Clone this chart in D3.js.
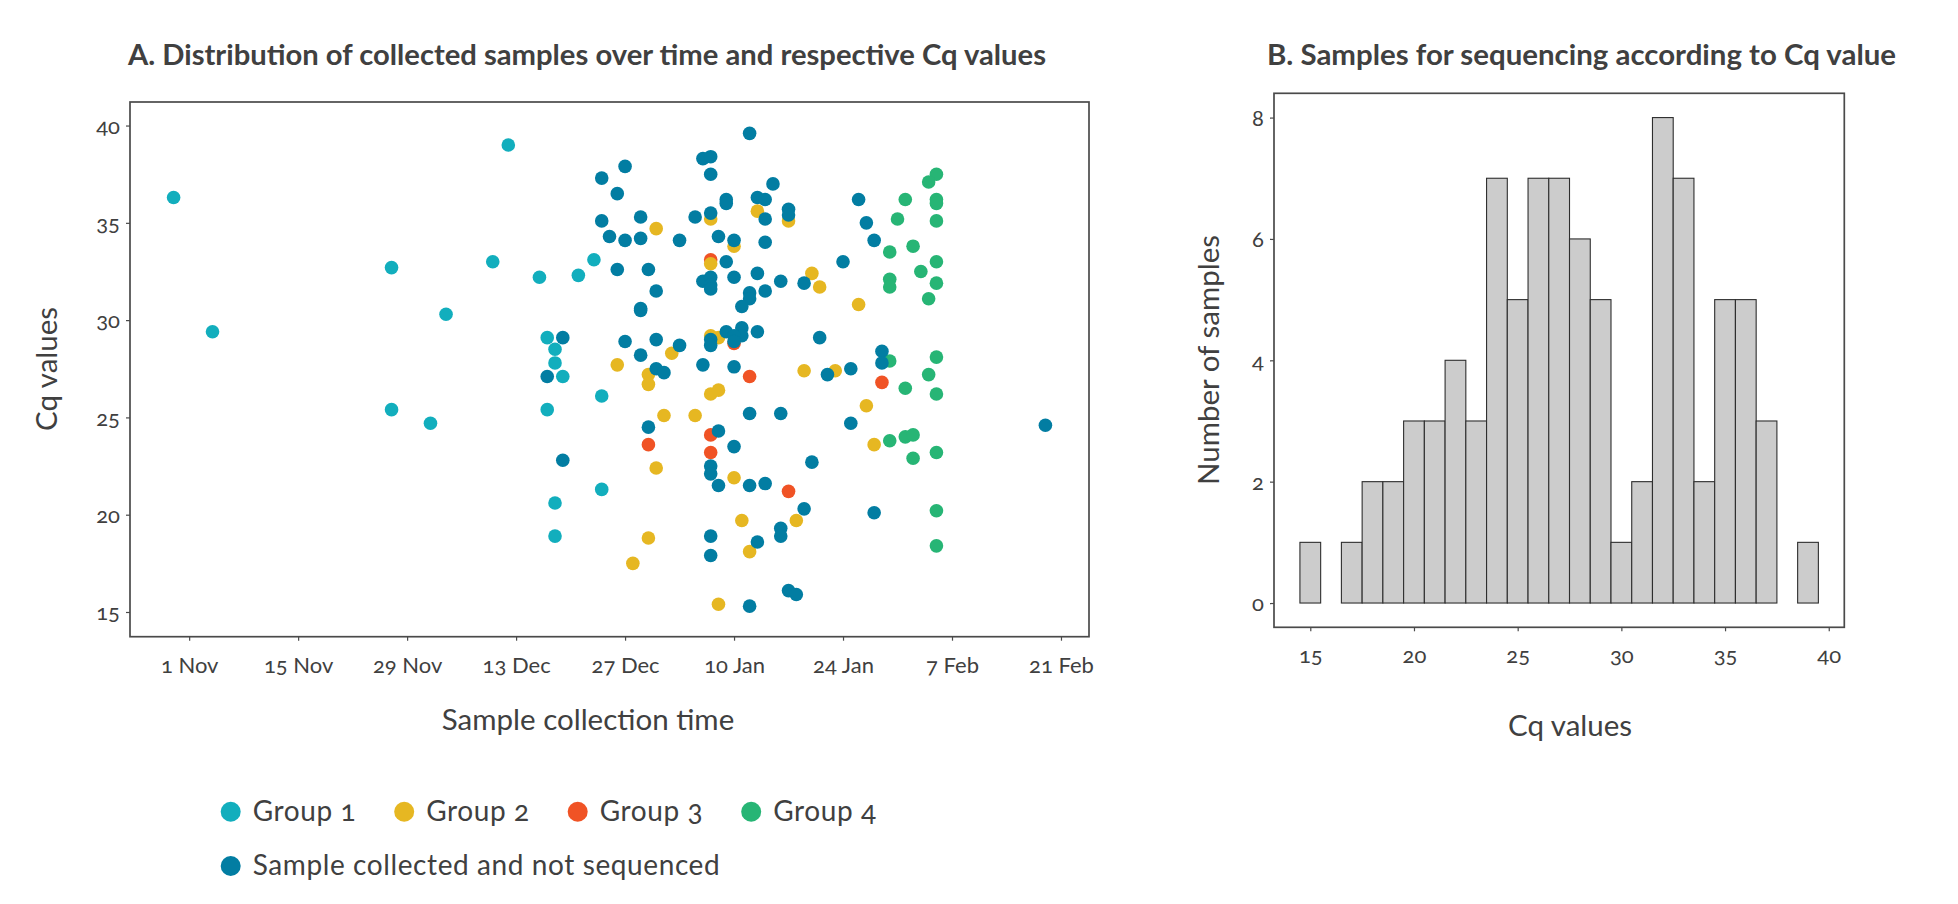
<!DOCTYPE html>
<html><head><meta charset="utf-8">
<script src="https://cdn.jsdelivr.net/npm/d3@7"></script>
<style>
body{margin:0;background:#fff;}
svg text{font-family:Lato,"Open Sans",sans-serif;fill:#404040;font-variant-numeric:oldstyle-nums;}
</style></head><body>
<svg id="chart" width="1958" height="904"></svg>
<script>
// ---------- Panel A data: [collection date, Cq value] ----------
const group1 = [["2020-10-30",36.3],["2020-11-04",29.4],["2020-11-27",32.7],["2020-11-27",25.4],["2020-12-02",24.7],
  ["2020-12-04",30.3],["2020-12-10",33.0],["2020-12-12",39.0],["2020-12-16",32.2],["2020-12-17",29.1],["2020-12-17",25.4],
  ["2020-12-18",28.5],["2020-12-18",27.8],["2020-12-18",20.6],["2020-12-18",18.9],["2020-12-19",27.1],["2020-12-21",32.3],
  ["2020-12-23",33.1],["2020-12-24",26.1],["2020-12-24",21.3]];
const group2 = [["2020-12-31",34.7],["2021-01-07",35.2],["2021-01-10",33.8],["2021-01-13",35.6],["2021-01-17",35.1],
  ["2021-01-07",32.9],["2021-01-20",32.4],["2021-01-21",31.7],["2021-01-26",30.8],["2021-01-02",28.3],["2020-12-26",27.7],
  ["2020-12-30",27.2],["2021-01-08",29.1],["2021-01-07",29.2],["2021-01-19",27.4],["2021-01-23",27.4],["2020-12-30",26.7],
  ["2021-01-07",26.2],["2021-01-08",26.4],["2021-01-01",25.1],["2021-01-05",25.1],["2021-01-27",25.6],["2020-12-31",22.4],
  ["2021-01-10",21.9],["2021-01-28",23.6],["2021-01-11",19.7],["2021-01-18",19.7],["2021-01-12",18.1],["2020-12-30",18.8],
  ["2020-12-28",17.5],["2021-01-08",15.4]];
const group3 = [["2021-01-07",33.1],["2021-01-12",27.1],["2021-01-10",28.8],["2020-12-30",23.6],["2021-01-07",24.1],
  ["2021-01-07",23.2],["2021-01-17",21.2],["2021-01-29",26.8]];
const group4 = [["2021-02-05",37.5],["2021-02-04",37.1],["2021-02-01",36.2],["2021-02-05",36.2],["2021-02-05",36.0],
  ["2021-01-31",35.2],["2021-02-05",35.1],["2021-01-30",33.5],["2021-02-02",33.8],["2021-02-05",33.0],["2021-02-03",32.5],
  ["2021-01-30",32.1],["2021-01-30",31.7],["2021-02-05",31.9],["2021-02-04",31.1],["2021-02-05",28.1],["2021-01-30",27.9],
  ["2021-02-04",27.2],["2021-02-01",26.5],["2021-02-05",26.2],["2021-01-30",23.8],["2021-02-01",24.0],["2021-02-02",24.1],
  ["2021-02-02",22.9],["2021-02-05",23.2],["2021-02-05",20.2],["2021-02-05",18.4]];
const notSequenced = [["2020-12-19",29.1],["2020-12-17",27.1],["2020-12-19",22.8],
  ["2021-01-12",39.6],["2021-01-06",38.3],["2021-01-07",38.4],["2021-01-07",37.5],["2020-12-27",37.9],["2020-12-24",37.3],
  ["2020-12-26",36.5],["2021-01-15",37.0],["2021-01-09",36.2],["2021-01-09",36.0],["2021-01-13",36.3],["2021-01-14",36.2],
  ["2021-01-14",35.2],["2021-01-17",35.7],["2021-01-17",35.4],["2020-12-24",35.1],["2020-12-29",35.3],["2020-12-25",34.3],
  ["2020-12-27",34.1],["2020-12-29",34.2],["2021-01-03",34.1],["2021-01-05",35.3],["2021-01-07",35.5],["2021-01-08",34.3],
  ["2021-01-10",34.1],["2021-01-14",34.0],["2020-12-26",32.6],["2020-12-30",32.6],["2021-01-09",33.0],["2021-01-13",32.4],
  ["2021-01-24",33.0],["2021-01-06",32.0],["2021-01-07",32.2],["2021-01-07",31.8],["2021-01-07",31.6],["2021-01-10",32.2],
  ["2020-12-31",31.5],["2021-01-14",31.5],["2021-01-16",32.0],["2021-01-12",31.4],["2021-01-12",31.1],["2021-01-11",30.7],
  ["2021-01-19",31.9],["2020-12-29",30.6],["2020-12-29",30.5],["2020-12-27",28.9],["2020-12-31",29.0],["2020-12-29",28.2],
  ["2021-01-03",28.7],["2020-12-31",27.5],["2021-01-01",27.3],["2021-01-06",27.7],["2021-01-10",27.6],["2021-01-22",27.2],
  ["2021-01-21",29.1],["2021-01-09",29.4],["2021-01-11",29.6],["2021-01-11",29.2],["2021-01-10",29.2],["2021-01-10",28.9],
  ["2021-01-07",29.0],["2021-01-07",28.7],["2021-01-13",29.4],
  ["2021-01-12",25.2],["2021-01-16",25.2],["2020-12-30",24.5],["2021-01-08",24.3],["2021-01-10",23.5],["2021-01-07",22.5],
  ["2021-01-07",22.1],["2021-01-08",21.5],["2021-01-12",21.5],["2021-01-14",21.6],["2021-01-20",22.7],["2021-01-19",20.3],
  ["2021-01-16",19.3],["2021-01-16",18.9],["2021-01-13",18.6],["2021-01-07",18.9],["2021-01-07",17.9],["2021-01-17",16.1],
  ["2021-01-18",15.9],["2021-01-12",15.3],
  ["2021-01-26",36.2],["2021-01-27",35.0],["2021-01-28",34.1],["2021-01-29",28.4],["2021-01-29",27.8],["2021-01-25",27.5],
  ["2021-01-25",24.7],["2021-01-28",20.1],["2021-02-19",24.6]];

const dateTicks = ["2020-11-01","2020-11-15","2020-11-29","2020-12-13","2020-12-27","2021-01-10","2021-01-24","2021-02-07","2021-02-21"];
const dateTickLabels = ["1 Nov","15 Nov","29 Nov","13 Dec","27 Dec","10 Jan","24 Jan","7 Feb","21 Feb"];
const cqTicks = [15,20,25,30,35,40];

// ---------- Panel B data: histogram of Cq values (bin width 1) ----------
const histBins = [15,16,17,18,19,20,21,22,23,24,25,26,27,28,29,30,31,32,33,34,35,36,37,38,39];
const histCounts = [1,0,1,2,2,3,3,4,3,7,5,7,7,6,5,1,2,8,7,2,5,5,3,0,1];
const histXTicks = [15,20,25,30,35,40];
const histYTicks = [0,2,4,6,8];

const seriesNames = ["Group 1","Group 2","Group 3","Group 4","Sample collected and not sequenced"];
const seriesColors = ["#12aebd","#e6b722","#f05325","#27b575","#027da2"];

// ---------- drawing ----------
const svg = d3.select("#chart");
const parse = d3.utcParse("%Y-%m-%d");
const frameColor = "#4a4a4a";
const series = [group1, group2, group3, group4, notSequenced];

// Panel A scales
const allDates = series.flat().map(d => parse(d[0]));
const [dmin, dmax] = d3.extent(allDates);
const span = dmax - dmin;
const xA = d3.scaleUtc().domain([new Date(+dmin - 0.05*span), new Date(+dmax + 0.05*span)]).range([130, 1089]);
const yA = d3.scaleLinear().domain([13.73, 41.21]).range([636.7, 102]);

const gA = svg.append("g");
gA.append("rect").attr("x",130).attr("y",102).attr("width",1089-130).attr("height",636.7-102)
  .attr("fill","none").attr("stroke",frameColor).attr("stroke-width",1.7);

const axA_x = gA.append("g").attr("transform","translate(0,636.7)")
  .call(d3.axisBottom(xA).tickValues(dateTicks.map(parse)).tickFormat((d,i)=>dateTickLabels[i]).tickSize(4).tickPadding(10));
const axA_y = gA.append("g").attr("transform","translate(130,0)")
  .call(d3.axisLeft(yA).tickValues(cqTicks).tickSize(4).tickPadding(6));
[axA_x, axA_y].forEach(a => {
  a.select(".domain").remove();
  a.selectAll(".tick line").attr("stroke",frameColor).attr("stroke-width",1.2);
  a.selectAll(".tick text").attr("font-size",22).attr("fill","#404040");
});
axA_x.selectAll(".tick text").attr("dy","1.0em");
axA_y.selectAll(".tick text").attr("dy","0.35em");

// points: draw order so that overlaps resemble the reference
const drawOrder = [0,2,1,3,4];
drawOrder.forEach(si => {
  gA.append("g").selectAll("circle").data(series[si]).join("circle")
    .attr("cx", d => xA(parse(d[0])))
    .attr("cy", d => yA(d[1]))
    .attr("r", 6.8)
    .attr("fill", seriesColors[si]);
});

// Panel A titles
svg.append("text").attr("x",128).attr("y",65).attr("font-size",28).attr("font-weight",700)
  .attr("textLength",918).attr("lengthAdjust","spacingAndGlyphs")
  .text("A. Distribution of collected samples over time and respective Cq values");
svg.append("text").attr("x",588).attr("y",730).attr("text-anchor","middle").attr("font-size",29.5)
  .text("Sample collection time");
svg.append("text").attr("transform","translate(46.7,369) rotate(-90)").attr("text-anchor","middle")
  .attr("dy","0.35em").attr("font-size",29.5).text("Cq values");

// Legend
const legendItems = seriesNames.map((n,i)=>({name:n,color:seriesColors[i],
  x: i<4 ? 230.7 + i*173.5 : 230.7, y: i<4 ? 811.7 : 866}));
const lg = svg.append("g").selectAll("g").data(legendItems).join("g")
  .attr("transform", d => `translate(${d.x},${d.y})`);
lg.append("circle").attr("r",10).attr("fill", d => d.color);
lg.append("text").attr("x",22).attr("dy","0.33em").attr("font-size",28).attr("letter-spacing",0.6).text(d => d.name);

// Panel B scales
const xB = d3.scaleLinear().domain([13.25, 40.75]).range([1274, 1844.3]);
const yB = d3.scaleLinear().domain([-0.4, 8.4]).range([627.3, 93.3]);
const gB = svg.append("g");
gB.append("rect").attr("x",1274).attr("y",93.3).attr("width",1844.3-1274).attr("height",627.3-93.3)
  .attr("fill","none").attr("stroke",frameColor).attr("stroke-width",1.7);

gB.append("g").selectAll("rect").data(histBins).join("rect")
  .attr("x", d => xB(d - 0.5))
  .attr("width", d => xB(d + 0.5) - xB(d - 0.5))
  .attr("y", (d,i) => yB(histCounts[i]))
  .attr("height", (d,i) => yB(0) - yB(histCounts[i]))
  .attr("fill", "#cccccc").attr("stroke", "#2e2e2e").attr("stroke-width", 1.1);

const axB_x = gB.append("g").attr("transform","translate(0,627.3)")
  .call(d3.axisBottom(xB).tickValues(histXTicks).tickSize(4).tickPadding(10));
const axB_y = gB.append("g").attr("transform","translate(1274,0)")
  .call(d3.axisLeft(yB).tickValues(histYTicks).tickSize(4).tickPadding(6));
[axB_x, axB_y].forEach(a => {
  a.select(".domain").remove();
  a.selectAll(".tick line").attr("stroke",frameColor).attr("stroke-width",1.2);
  a.selectAll(".tick text").attr("font-size",22).attr("fill","#404040");
});
axB_x.selectAll(".tick text").attr("dy","1.0em");
axB_y.selectAll(".tick text").attr("dy","0.35em");

svg.append("text").attr("x",1267).attr("y",65).attr("font-size",28).attr("font-weight",700)
  .attr("textLength",629).attr("lengthAdjust","spacingAndGlyphs")
  .text("B. Samples for sequencing according to Cq value");
svg.append("text").attr("x",1570).attr("y",736).attr("text-anchor","middle").attr("font-size",29.5)
  .text("Cq values");
svg.append("text").attr("transform","translate(1208.7,360) rotate(-90)").attr("text-anchor","middle")
  .attr("dy","0.35em").attr("font-size",29.5).text("Number of samples");
</script>
</body></html>
